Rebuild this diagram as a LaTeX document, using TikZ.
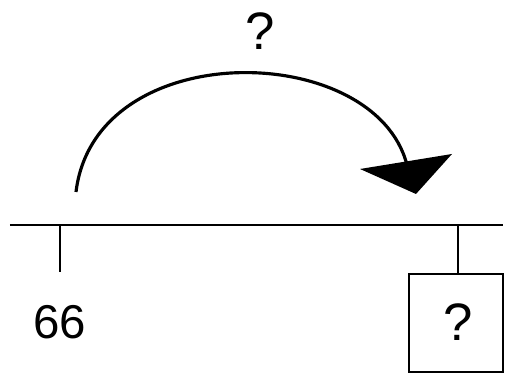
\documentclass[tikz,border=0pt]{standalone}
\usepackage{fontspec}
\setmainfont{Liberation Sans}

\tikzset{
  axisline/.style={line width=1.1pt},
  jump/.style={line width=1.8pt},
  numtxt/.style={font=\fontsize{27}{27}\selectfont, inner sep=0pt},
  asktxt/.style={font=\fontsize{30}{30}\selectfont, inner sep=0pt}
}

\begin{document}
\begin{tikzpicture}

  \useasboundingbox (0,0) rectangle (10.1,7.46);

  % number line
  \coordinate (axisL) at (0.2,2.96);
  \coordinate (axisR) at (10.06,2.96);
  \draw[axisline] (axisL) -- (axisR);

  \coordinate (tickA) at (1.2,2.96);
  \coordinate (tickAend) at (1.2,2.02);
  \draw[axisline] (tickA) -- (tickAend);
  \node[numtxt] (start) at (1.19,1.02) {66};

  \coordinate (tickB) at (9.16,2.96);
  \node[draw, axisline, minimum width=1.88cm, minimum height=1.96cm] (target) at (9.12,1.0) {};
  \node[asktxt] (targetq) at (9.17,1.01) {?};
  \draw[axisline] (tickB) -- (target.north -| tickB);

  % jump
  \coordinate (jumpfrom) at (1.52,3.62);
  \coordinate (jumpend) at (8.14,4.16);
  \coordinate (jumpto) at (8.32,3.58);
  \draw[jump] (jumpfrom) .. controls (1.9,6.76) and (7.5,6.66) .. (jumpend);
  \fill (jumpto) -- ++(-1.12,0.5) -- ++(1.84,0.3) -- cycle;
  \node[asktxt] (step) at (5.2,6.83) {?};

\end{tikzpicture}
\end{document}
